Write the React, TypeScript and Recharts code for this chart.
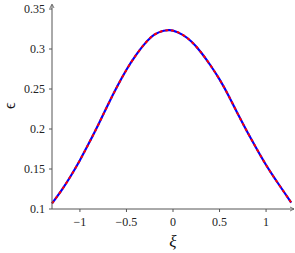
import { LineChart, Line, XAxis, YAxis } from 'recharts';

const xi = [-1.3, -1.2, -1.1, -1.0, -0.9, -0.8, -0.7, -0.6, -0.5, -0.4, -0.3, -0.2, -0.1, -0.05, 0, 0.1, 0.2, 0.3, 0.4, 0.5, 0.6, 0.7, 0.8, 0.9, 1.0, 1.1, 1.2, 1.27];
const epsA = [0.107, 0.123, 0.141, 0.161, 0.183, 0.206, 0.23, 0.253, 0.274, 0.292, 0.307, 0.318, 0.3228, 0.3235, 0.323, 0.318, 0.309, 0.296, 0.28, 0.262, 0.241, 0.218, 0.196, 0.175, 0.155, 0.137, 0.12, 0.108];
const epsB = epsA;
const xTicks = [-1, -0.5, 0, 0.5, 1];
const yTicks = [0.1, 0.15, 0.2, 0.25, 0.3, 0.35];

const data = xi.map((x, i) => ({ x, a: epsA[i], b: epsB[i] }));

const fmt = (v: number) => String(v).replace('-', '\u2212');
const font = "'Times New Roman', 'Liberation Serif', 'DejaVu Serif', serif";
const axisColor = '#555';

export default function App() {
  return (
    <div style={{ position: 'absolute', left: 0, top: 0, width: 295, height: 253, background: '#fff', fontFamily: font }}>
      <style>{`svg text { font-family: ${font} !important; }`}</style>
      <LineChart width={295} height={253} data={data} margin={{ top: 9, right: 1, bottom: 0, left: 0 }}>
        <XAxis
          dataKey="x"
          type="number"
          domain={[-1.3, 1.3]}
          ticks={xTicks}
          tickFormatter={fmt}
          height={44}
          stroke={axisColor}
          tickSize={3}
          tickMargin={5}
          tick={{ fill: '#222', fontSize: 12, fontFamily: font }}
          label={{ value: 'ξ', position: 'insideBottom', offset: 6, fill: '#111', fontSize: 17, fontStyle: 'italic', fontFamily: font }}
        />
        <YAxis
          type="number"
          domain={[0.1, 0.35]}
          ticks={yTicks}
          tickFormatter={fmt}
          width={52}
          stroke={axisColor}
          tickSize={3}
          tickMargin={4}
          tick={{ fill: '#222', fontSize: 12, fontFamily: font }}
          label={{ value: 'ϵ', angle: -90, position: 'insideLeft', offset: 9, fill: '#111', fontSize: 16, fontFamily: font }}
        />
        <Line dataKey="a" type="natural" stroke="#0000ff" strokeWidth={2.2} dot={false} isAnimationActive={false} />
        <Line dataKey="b" type="natural" stroke="#ff0000" strokeWidth={2} strokeDasharray="3 3" dot={false} isAnimationActive={false} />
      </LineChart>
      <svg width={295} height={253} style={{ position: 'absolute', left: 0, top: 0, pointerEvents: 'none' }}>
        <line x1={52} y1={9} x2={52} y2={5} stroke={axisColor} />
        <path d="M50,8 L52,4 L54,8" fill="none" stroke={axisColor} strokeWidth={0.8} />
        <path d="M290,207 L294,209 L290,211" fill="none" stroke={axisColor} strokeWidth={0.8} />
      </svg>
    </div>
  );
}
